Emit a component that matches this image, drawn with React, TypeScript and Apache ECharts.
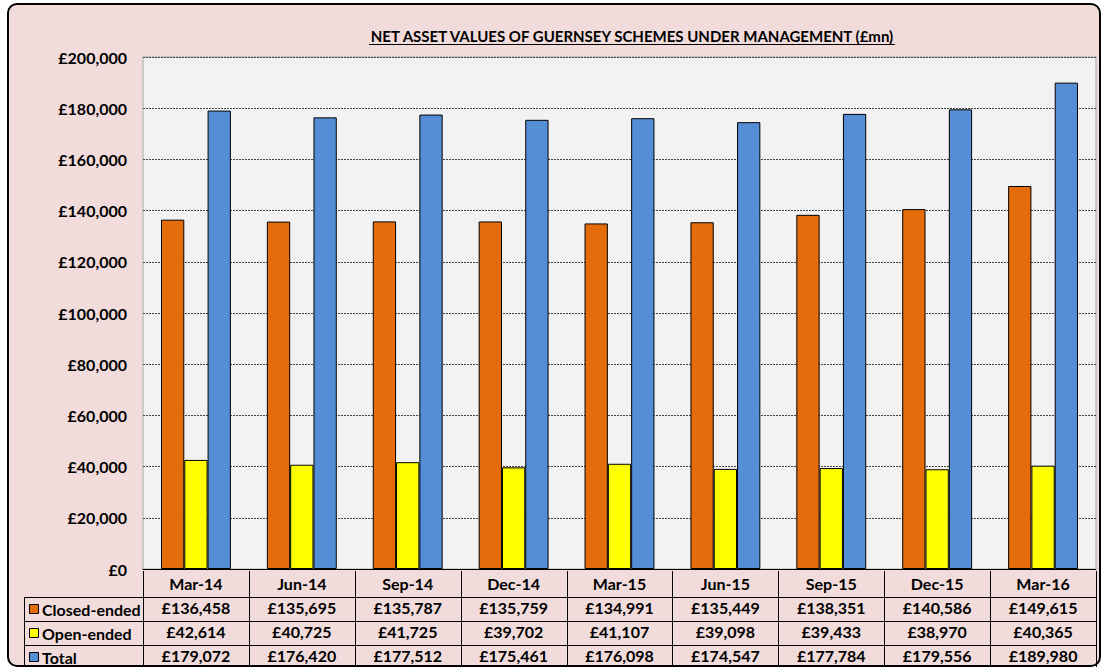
import React, { useEffect, useRef } from "react";
import * as echarts from "echarts";

const categories = ["Mar-14", "Jun-14", "Sep-14", "Dec-14", "Mar-15", "Jun-15", "Sep-15", "Dec-15", "Mar-16"];
const closedEnded = [136458, 135695, 135787, 135759, 134991, 135449, 138351, 140586, 149615];
const openEnded = [42614, 40725, 41725, 39702, 41107, 39098, 39433, 38970, 40365];
const totals = [179072, 176420, 177512, 175461, 176098, 174547, 177784, 179556, 189980];
const seriesNames = ["Closed-ended", "Open-ended", "Total"];
const seriesColors = ["#E46C0A", "#FFFF00", "#558ED5"];
const titleText = "NET ASSET VALUES OF GUERNSEY SCHEMES UNDER MANAGEMENT (£mn)";

const FONT = "Lato, 'Open Sans', sans-serif";
const W = 1102;
const H = 667;
const GL = 143;
const GR = 1096;
const GT = 57;
const GB = 571;
const ROW = 24;
const HEADER = 26;
const FS = 16;

const fmt = (v: number) => "£" + v.toLocaleString("en-GB");

export default function App() {
  const ref = useRef<HTMLDivElement>(null);
  useEffect(() => {
    document.body.style.margin = "0";
    const chart = echarts.init(ref.current!, null, { renderer: "svg" });

    let titleW = 527;
    try {
      const c = document.createElement("canvas").getContext("2d")!;
      c.font = "bold 15px Lato";
      titleW = c.measureText(titleText).width;
    } catch (e) {}
    const titleCx = 632;

    const colW = (GR - GL) / categories.length;
    const g: any[] = [];
    g.push({
      type: "rect",
      z: -10,
      shape: { x: 8, y: 4, width: 1092, height: 662, r: 9 },
      style: { fill: "#F2DCDB", stroke: "#000", lineWidth: 2 },
      silent: true,
    });
    g.push({
      type: "text",
      x: titleCx,
      y: 36,
      style: { text: titleText, font: `bold 15px ${FONT}`, fill: "#000", align: "center", verticalAlign: "middle" },
    });
    g.push({
      type: "line",
      shape: { x1: titleCx - titleW / 2, y1: 44.5, x2: titleCx + titleW / 2, y2: 44.5 },
      style: { stroke: "#000", lineWidth: 1.2 },
    });
    for (let i = 0; i <= categories.length; i++) {
      const x = Math.round(GL + i * colW) + 0.5;
      g.push({ type: "line", z: 10, shape: { x1: x, y1: GB, x2: x, y2: H }, style: { stroke: "#000", lineWidth: 1 } });
    }
    g.push({ type: "line", z: 10, shape: { x1: 24.5, y1: GB + HEADER, x2: 24.5, y2: H }, style: { stroke: "#000", lineWidth: 1 } });
    for (let r = 0; r < 3; r++) {
      const y = GB + HEADER + r * ROW + 0.5;
      g.push({ type: "line", z: 10, shape: { x1: 24, y1: y, x2: GR + 1, y2: y }, style: { stroke: "#000", lineWidth: 1 } });
    }
    seriesNames.forEach((name, r) => {
      const cy = GB + HEADER + r * ROW + ROW / 2;
      g.push({
        type: "rect",
        z: 10,
        shape: { x: 29.5, y: Math.round(cy - 5) + 0.5, width: 9, height: 9 },
        style: { fill: seriesColors[r], stroke: "#000", lineWidth: 1 },
      });
      g.push({
        type: "text",
        z: 10,
        x: 42,
        y: cy,
        style: { text: name, font: `bold ${FS}px ${FONT}`, fill: "#000", align: "left", verticalAlign: "middle" },
      });
    });

    const barStyle = (c: string) => ({ color: c, borderColor: "#000", borderWidth: 1 });

    chart.setOption({
      animation: false,
      textStyle: { fontFamily: FONT },
      grid: {
        left: GL,
        right: W - GR,
        top: GT,
        bottom: H - GB,
        show: true,
        backgroundColor: "#F2F2F2",
        borderColor: "#A6A6A6",
        borderWidth: 1,
      },
      xAxis: {
        type: "category",
        data: categories,
        axisLine: { show: true, lineStyle: { color: "#000", width: 1 } },
        axisTick: { show: false },
        axisLabel: {
          interval: 0,
          margin: 2,
          fontFamily: FONT,
          fontWeight: "bold",
          fontSize: FS,
          color: "#000",
          lineHeight: ROW,
          formatter: (v: string, i: number) =>
            [v, fmt(closedEnded[i]), fmt(openEnded[i]), fmt(totals[i])].join("\n"),
        },
      },
      yAxis: {
        type: "value",
        min: 0,
        max: 200000,
        interval: 20000,
        axisLine: { show: false },
        axisTick: { show: false },
        axisLabel: {
          margin: 16,
          fontFamily: FONT,
          fontWeight: "bold",
          fontSize: FS,
          color: "#000",
          formatter: (v: number) => fmt(v),
        },
        splitLine: { show: true, lineStyle: { color: "#444", type: [2, 1], width: 1 } },
      },
      series: [
        { name: seriesNames[0], type: "bar", data: closedEnded, itemStyle: barStyle(seriesColors[0]), barGap: "0%", barCategoryGap: "34%" },
        { name: seriesNames[1], type: "bar", data: openEnded, itemStyle: barStyle(seriesColors[1]), barGap: "0%", barCategoryGap: "34%" },
        { name: seriesNames[2], type: "bar", data: totals, itemStyle: barStyle(seriesColors[2]), barGap: "0%", barCategoryGap: "34%" },
      ],
      graphic: g,
    });
    return () => chart.dispose();
  }, []);
  return <div ref={ref} style={{ width: W, height: H, position: "absolute", left: 0, top: 0 }} />;
}
